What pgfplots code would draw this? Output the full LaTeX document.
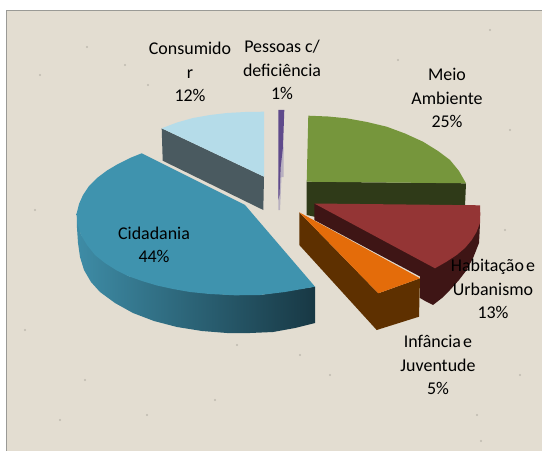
\documentclass[border=0pt]{standalone}
\usepackage{pgfplots}
\pgfplotsset{compat=1.18}
\usepackage{fontspec}
\setmainfont{Carlito}
\definecolor{bgc}{HTML}{E3DDD1}
\definecolor{bord}{HTML}{9A9A96}
\definecolor{citop}{HTML}{3F93AE}
\definecolor{cisideL}{HTML}{3E8CA6}
\definecolor{cisideR}{HTML}{183844}
\definecolor{cotop}{HTML}{B5DCE9}
\definecolor{coside}{HTML}{4A5A60}
\definecolor{petop}{HTML}{5F4A8B}
\definecolor{peside}{HTML}{B8B0C0}
\definecolor{metop}{HTML}{76963C}
\definecolor{meside}{HTML}{2F3A18}
\definecolor{hatop}{HTML}{943535}
\definecolor{haside}{HTML}{3E1515}
\definecolor{intop}{HTML}{E46C0A}
\definecolor{inside}{HTML}{5E3000}
\begin{document}
\begin{tikzpicture}
\begin{axis}[
  scale only axis, width=542bp, height=451bp,
  xmin=0, xmax=542, ymin=0, ymax=451, y dir=reverse,
  hide axis, clip=true,
]
% page and textured panel
\addplot[fill=white,draw=none] coordinates {(0,0)(542,0)(542,451)(0,451)} --cycle;
\addplot[fill=bgc,draw=none] coordinates {(6,11)(542,11)(542,451)(6,451)} --cycle;
\addplot[only marks,mark=*,mark size=1.1,mark options={draw=none,fill=black,fill opacity=0.16,draw opacity=0}] coordinates {
(148,85)(87,47)(477,415)(481,441)(147,415)(40,75)(25,330)(60,420)(237,345)(300,355)(510,130)(490,30)(398,60)(85,380)(330,375)(520,375)(215,400)(125,65)(35,210)(505,230)};
\addplot[draw=bord,line width=1bp] coordinates {(6,451)(6,11)(542,11)};
% Meio Ambiente 25%
\addplot[fill=meside,draw=none] coordinates {(306.7,181.7)(466,183.3)(465,206)(420,240)(306.7,215)} --cycle;
\addplot[fill=metop,draw=none] coordinates {(308.3,115.7)(328,116.5)(346.7,118.3)(367,122)(386.7,126.7)(405,133.5)(423,141.7)(438,151)(450,160)(459,171)(466,183.3)(306.7,181.7)} --cycle;
% Habitação e Urbanismo 13%
\addplot[fill=haside,draw=none] coordinates {(314.3,203.5)(314.3,220)(420,276.5)(420,298)(426,301.5)(433,305)(442,298)(450,290)(459,280)(466.7,270)(473.5,257)(479,243)(479.5,234)(480,223)} --cycle;
\addplot[fill=hatop,draw=none] coordinates {(314.3,203.5)(480,205.3)(480.3,214)(480,223)(476.5,232)(471.7,240)(465,248)(456.7,255)(446,262)(435,268.3)} --cycle;
% Infância e Juventude 5%
\addplot[fill=inside,draw=none] coordinates {(299.3,212.3)(299.3,245)(376.7,330)(419,316.7)(420,278.3)(378.3,293.3)} --cycle;
\addplot[fill=intop,draw=none] coordinates {(299.3,212.3)(420,278.3)(378.3,293.3)} --cycle;
% Cidadania 44%
\addplot[left color=cisideL,right color=cisideR,draw=none] coordinates {(76.7,213.3)(77,228)(78,243)(80,257)(84,270)(91,282)(100,292)(115,303)(133,313)(154,321)(177,327)(202,331)(227,333)(250,333)(273,332)(295,328)(315,323)(315,286.7)(260,295)(210,294)(128,276)(81,235)} --cycle;
\addplot[fill=citop,draw=none] coordinates {(141.7,153.3)(130,158)(118,164)(107,170.5)(97,178)(89,186)(83,195)(79,204)(76.7,213.3)(77.5,224)(81,235)(87,245)(95,255)(105,263)(116,270)(128,276)(142,281)(157,285.5)(173,289)(190,292)(210,294)(235,295.3)(260,295)(285,292)(315,286.7)(245,205)} --cycle;
% Consumidor 12%
\addplot[fill=coside,draw=none] coordinates {(161.7,128.3)(162.7,160.7)(263.3,210)(264,176.7)} --cycle;
\addplot[fill=cotop,draw=none] coordinates {(161.7,128.3)(177,122.5)(193,118)(210,115)(227,113)(245,112)(264,111.7)(264,176.7)} --cycle;
% Pessoas c/ deficiência 1%
\addplot[fill=peside,draw=none] coordinates {(278.3,180)(278.3,210)(280,210)(281.5,177)(283.6,177)(283.6,147)(282,147)} --cycle;
\addplot[fill=petop,draw=none] coordinates {(278.3,110)(284.3,110)(283,147)(280.7,167)(279.5,195)(278.3,200)} --cycle;
% labels
\def\lab#1#2#3{\node[align=center,inner sep=0pt,font=\fontsize{18}{23.3}\selectfont,text=black] at (axis cs:#1,#2) {#3};}
\lab{190}{72}{Consumido\\r\\12\%}
\lab{282}{70}{Pessoas c/\\deficiência\\1\%}
\lab{447}{98}{Meio\\Ambiente\\25\%}
\lab{154}{245}{Cidadania\\44\%}
\lab{493}{289}{Habitação\hspace{0.12em}e\\Urbanismo\\13\%}
\lab{438}{365}{Infância\hspace{0.12em}e\\Juventude\\5\%}
\end{axis}
\end{tikzpicture}
\end{document}
